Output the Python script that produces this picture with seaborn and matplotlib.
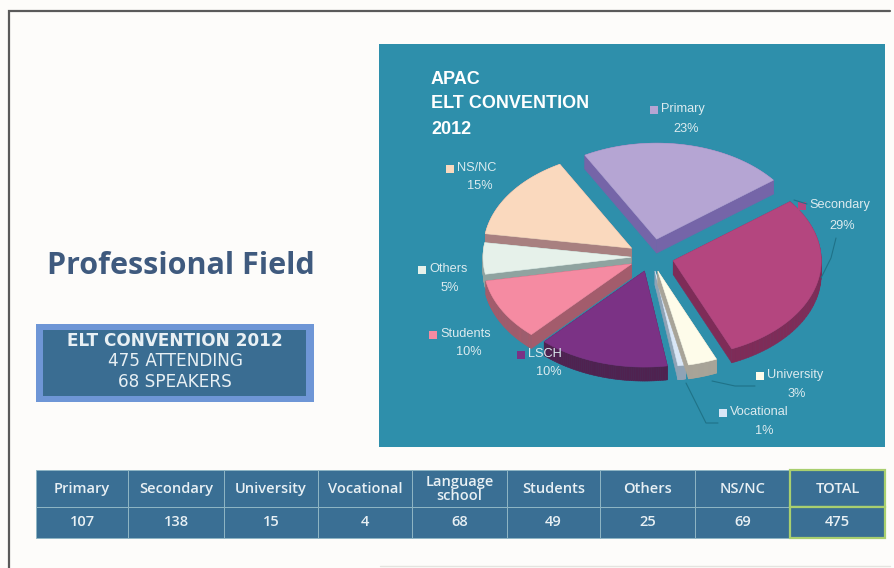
import numpy as np
import matplotlib
matplotlib.use("Agg")
import matplotlib.pyplot as plt
from matplotlib.patches import Rectangle, Polygon
import seaborn as sns

# Attendance by professional field
fields = ["Primary", "Secondary", "University", "Vocational", "LSCH", "Students", "Others", "NS/NC"]
attendance = [107, 138, 15, 4, 68, 49, 25, 69]
percent_labels = ["23%", "29%", "3%", "1%", "10%", "10%", "5%", "15%"]
table_headers = ["Primary", "Secondary", "University", "Vocational", "Language\nschool",
                 "Students", "Others", "NS/NC", "TOTAL"]
table_values = ["107", "138", "15", "4", "68", "49", "25", "69", "475"]
chart_title = ["APAC", "ELT CONVENTION", "2012"]
box_lines = ["ELT CONVENTION 2012", "475 ATTENDING", "68 SPEAKERS"]
page_title = "Professional Field"

# Styling
top_colors = ["#B5A5D3", "#B4467F", "#FEFCEA", "#D9E6F6", "#7B3285", "#F58BA2", "#E6F1EA", "#FAD9BE"]
side_colors = ["#7565A8", "#7E2C58", "#A8A498", "#8FA3B6", "#4F2250", "#A35C6C", "#8FA3A0", "#A88080"]
explode = [0.19, 0.155, 0.153, 0.148, 0.153, 0.15, 0.135, 0.16]
draw_order = [0, 1, 7, 6, 5, 4, 3, 2]
PANEL = "#2E8FAB"
TEXT = "#DCEBEF"
CELL = "#3A6F94"

sns.set_theme(style="white")
plt.rcParams["font.family"] = ["Liberation Sans", "DejaVu Sans"]

fig = plt.figure(figsize=(8.94, 5.68), dpi=100, facecolor="#FDFCFA")
ax = fig.add_axes([0, 0, 1, 1])
ax.set_xlim(0, 894)
ax.set_ylim(568, 0)
ax.axis("off")

# Page frame
ax.plot([9, 9, 890], [568, 11, 11], color="#5A5A5A", lw=1.6, solid_joinstyle="miter")
ax.plot([380, 890], [566, 566], color="#E4E4E0", lw=1)

# Heading and summary box
ax.text(181, 266, page_title, ha="center", va="center", fontsize=22, fontweight="bold",
        family=["Open Sans"], color="#3F5A7E")
ax.add_patch(Rectangle((36, 324), 278, 78, fc="#6E96D6", ec="none"))
ax.add_patch(Rectangle((43, 330), 263, 66, fc="#3A6D92", ec="none"))
for line, y, weight in zip(box_lines, [341, 361, 382], ["bold", "normal", "normal"]):
    ax.text(175, y, line, ha="center", va="center", fontsize=12.2, fontweight=weight,
            family=["DejaVu Sans"], color="#E8F0F4")

# Chart panel
ax.add_patch(Rectangle((379, 44), 506, 403, fc=PANEL, ec="none"))
for line, y in zip(chart_title, [79, 104, 129]):
    ax.text(431, y, line, ha="left", va="center", fontsize=13, fontweight="bold", color="white")

# Exploded, tilted pie built from the attendance counts
CX, CY, RX, RY, DEPTH = 651, 257, 148, 96, 14
sweep = 360 * np.array(attendance) / sum(attendance)
starts = -29 + np.concatenate([[0], np.cumsum(sweep)[:-1]])

for i in draw_order:
    mid = np.radians(starts[i] + sweep[i] / 2)
    ox = CX + explode[i] * RX * np.sin(mid)
    oy = CY - explode[i] * RY * np.cos(mid)
    th = np.radians(np.linspace(starts[i], starts[i] + sweep[i], 60))
    xs = np.r_[ox, ox + RX * np.sin(th)]
    ys = np.r_[oy, oy - RY * np.cos(th)]
    for k in range(len(xs)):
        m = (k + 1) % len(xs)
        ax.add_patch(Polygon([(xs[k], ys[k]), (xs[m], ys[m]), (xs[m], ys[m] + DEPTH), (xs[k], ys[k] + DEPTH)],
                             fc=side_colors[i], ec=side_colors[i], lw=0.4))
    ax.add_patch(Polygon(np.c_[xs, ys], fc=top_colors[i], ec=top_colors[i], lw=0.4))

# Leader lines
LEADER = "#1F7288"
for lx, ly in [([794, 807], [200, 204]), ([836, 831, 821], [238, 258, 278]),
               ([712, 735, 755], [381, 386, 386]), ([686, 706, 718], [383, 423, 423])]:
    ax.plot(lx, ly, color=LEADER, lw=0.8)

# Category labels with their colour keys
key_xy = [(654, 110), (802, 206), (760, 376), (723, 413), (521, 355), (433, 335), (422, 270), (450, 169)]
pct_xy = [(686, 129), (842, 226), (797, 394), (764, 431), (549, 372), (469, 352), (450, 288), (480, 186)]
for name, pct, color, (kx, ky), (px, py) in zip(fields, percent_labels, top_colors, key_xy, pct_xy):
    ax.add_patch(Rectangle((kx - 4, ky - 4), 8, 8, fc=color, ec="none"))
    ax.text(kx + 7, ky - 1, name, ha="left", va="center", fontsize=9.2, color=TEXT)
    ax.text(px, py, pct, ha="center", va="center", fontsize=9.2, color=TEXT)

# Summary table
edges = [36, 128, 224, 318, 412, 507, 600, 695, 790, 885]
for j, (head, value) in enumerate(zip(table_headers, table_values)):
    x0, x1 = edges[j], edges[j + 1]
    total = j == len(table_headers) - 1
    border = "#A9CF6F" if total else "#8FB6C4"
    lw = 1.6 if total else 0.7
    ax.add_patch(Rectangle((x0, 470), x1 - x0, 37, fc=CELL, ec=border, lw=lw))
    ax.add_patch(Rectangle((x0, 507), x1 - x0, 31, fc=CELL, ec=border, lw=lw))
    ax.text((x0 + x1) / 2, 489, head, ha="center", va="center", fontsize=10.5, fontweight="semibold",
            family=["Open Sans"], color="#E8F0F4", linespacing=0.95)
    ax.text((x0 + x1) / 2, 522, value, ha="center", va="center", fontsize=10.5, fontweight="semibold",
            family=["Open Sans"], color="#E8F0F4")

fig.savefig("out.png", dpi=100, facecolor=fig.get_facecolor())
